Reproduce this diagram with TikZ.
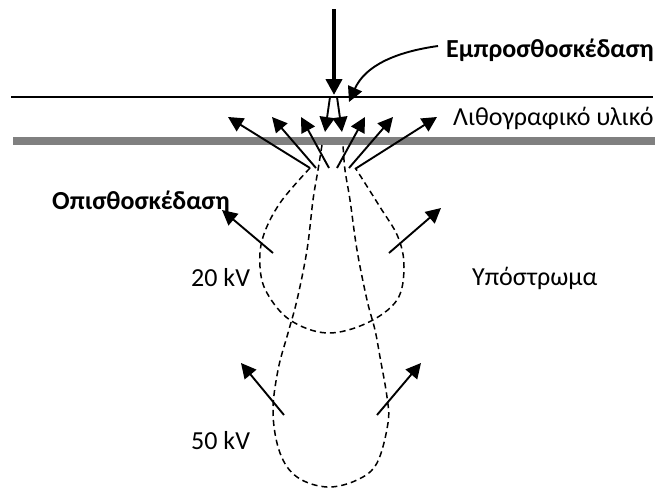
\documentclass[tikz,border=0pt]{standalone}
\usepackage{fontspec}
\setmainfont{Carlito}
\usetikzlibrary{arrows.meta}
\begin{document}
\begin{tikzpicture}[x=1pt,y=-1pt,
  lbl/.style={inner sep=0pt,anchor=base west,font=\fontsize{26}{30}\selectfont},
  boldlbl/.style={lbl,font=\fontsize{26}{30}\selectfont\bfseries},
  ray/.style={line width=1.9pt,-{Triangle[length=15pt,width=15pt]}},
  beam/.style={line width=4pt,-{Triangle[length=16pt,width=16pt]}},
  trail/.style={line width=1.5pt,dash pattern=on 6pt off 4pt}]
\useasboundingbox (0,0) rectangle (662,488);

% layer boundaries
\draw[line width=1.5pt] (11,97) -- (653,97);
\draw[line width=8pt,color=black!50] (13,141) -- (655,141);

% incident beam
\coordinate (beamtop) at (334,9);
\coordinate (beamhit) at (334,95);
\draw[beam] (beamtop) -- (beamhit);

% forward scattering
\coordinate (fl0) at (330,97);
\coordinate (fl1) at (325,132);
\coordinate (fr0) at (337,97);
\coordinate (fr1) at (342,132);
\draw[ray] (fl0) -- (fl1);
\draw[ray] (fr0) -- (fr1);

% back scattering out of the resist
\foreach \i/\ax/\ay/\bx/\by in {1/310/168/228/117, 2/316/168/272/117, 3/329/168/301/117,
                                4/337/168/365/117, 5/349/168/393/117, 6/355/169/437/117}
  {\coordinate (bs\i a) at (\ax,\ay); \coordinate (bs\i b) at (\bx,\by);
   \draw[ray] (bs\i a) -- (bs\i b);}

% electron trajectories, 20 kV
\draw[trail] plot[smooth,tension=0.6] coordinates {(310,168) (280,203) (263,237) (260,267) (267,293)
  (290,320) (327,333) (367,323) (397,300) (404,267) (398,237) (380,207) (356,169)};

% electron trajectories, 50 kV
\draw[trail] plot[smooth,tension=0.6] coordinates {(322,145) (318,170) (313,200) (307,250) (297,300)
  (288,333) (278,370) (273,413) (280,453) (297,477) (327,487) (357,480) (377,463) (388,423)
  (387,397) (380,357) (375,330) (367,300) (357,250) (350,200) (345,170) (343,145)};

% back scattering in the substrate
\coordinate (l20a) at (273,253); \coordinate (l20b) at (222,210);
\coordinate (r20a) at (389,253); \coordinate (r20b) at (441,208);
\coordinate (l50a) at (284,415); \coordinate (l50b) at (241,363);
\coordinate (r50a) at (377,415); \coordinate (r50b) at (421,363);
\draw[ray] (l20a) -- (l20b);
\draw[ray] (r20a) -- (r20b);
\draw[ray] (l50a) -- (l50b);
\draw[ray] (r50a) -- (r50b);

% labels
\node[boldlbl] (fwd) at (446,57) {Εμπροσθοσκέδαση};
\node[lbl] (resist) at (453,125) {Λιθογραφικό υλικό};
\node[boldlbl] (back) at (52,209) {Οπισθοσκέδαση};
\node[lbl] (kv20) at (191,286) {20 kV};
\node[lbl] (kv50) at (191,449) {50 kV};
\node[lbl] (sub) at (472,285) {Υπόστρωμα};

% pointer to the forward scattering
\coordinate (fptr) at (349,102);
\draw[line width=1.9pt,-{Triangle[length=15pt,width=15pt]}]
  (438,46) .. controls (395,52) and (365,66) .. (fptr);
\end{tikzpicture}
\end{document}
